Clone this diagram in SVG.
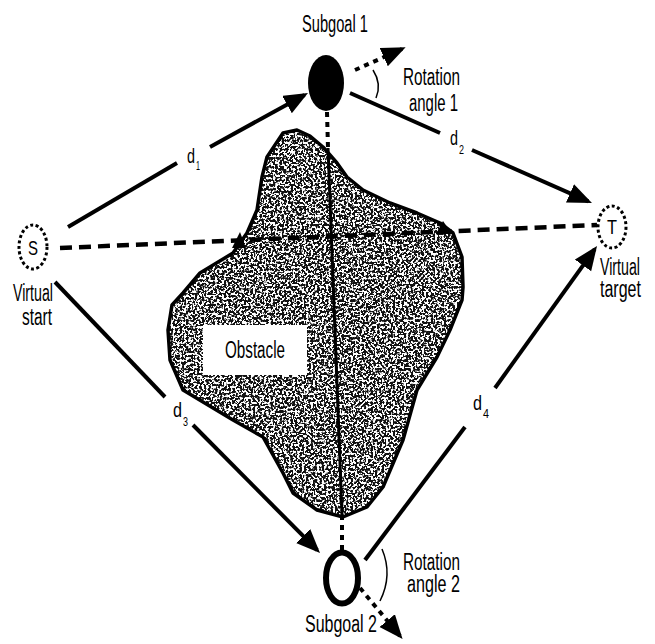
<svg xmlns="http://www.w3.org/2000/svg" xmlns:xlink="http://www.w3.org/1999/xlink" width="655" height="644" viewBox="0 0 655 644">
<style>
text{font-family:"Liberation Sans",Arial,sans-serif;font-size:23px;fill:#000}
.sub{font-size:12px}
.dd{font-size:20px}
.solid{stroke:#000;stroke-width:4;fill:none}
.dash{stroke:#000;stroke-width:4.5;fill:none;stroke-dasharray:12 7}
.dot{stroke:#000;stroke-width:4;fill:none;stroke-dasharray:5 5}
.thin{stroke:#000;stroke-width:1.5;fill:none}
</style>
<defs>
<marker id="ah" markerUnits="userSpaceOnUse" markerWidth="26" markerHeight="22" refX="20" refY="10" orient="auto">
<path d="M0,0 L24,10 L0,20 z" fill="#000"/>
</marker>
<filter id="speckle" x="0" y="0" width="1" height="1">
<feTurbulence type="fractalNoise" baseFrequency="0.45" numOctaves="2" seed="7" result="n"/>
<feColorMatrix in="n" type="matrix" values="0 0 0 0 1 0 0 0 0 1 0 0 0 0 1 0 0 0 -12 6.3" result="w"/>
<feComposite in="w" in2="SourceGraphic" operator="in"/>
</filter>
<polygon id="obs" points="297,130 310,136 323,147 337,163 347,177 363,190 390,203 417,213 440,223 453,233 462,257 463,287 462,300 450,330 437,357 417,390 403,440 383,487 367,507 343,517 317,510 293,493 283,473 263,437 233,420 183,390 170,360 168,330 172,305 183,293 200,273 233,253 247,233 257,210 262,177 267,157 283,133"/>
</defs>
<rect width="655" height="644" fill="#fff"/>
<g id="obstacle">
<use xlink:href="#obs" fill="#111"/>
<use xlink:href="#obs" fill="#fff" filter="url(#speckle)"/>
<use xlink:href="#obs" fill="none" stroke="#000" stroke-width="3.5" stroke-linejoin="round"/>
<rect x="203" y="325" width="104" height="50" fill="#fff"/>
<text x="225" y="358" textLength="60" lengthAdjust="spacingAndGlyphs">Obstacle</text>
</g>
<g id="connectors">
<line class="dash" x1="60" y1="248" x2="597" y2="225"/>
<polygon points="232,248 240,232 246,248" fill="#000"/>
<polygon points="436,234 443,221 452,234" fill="#000"/>
<line class="dot" x1="327" y1="112" x2="328" y2="148"/>
<line class="solid" style="stroke-width:3" x1="328" y1="148" x2="342" y2="515"/>
<line class="dot" x1="342" y1="515" x2="342" y2="550"/>
<line class="solid" x1="68" y1="227" x2="177" y2="163"/>
<line class="solid" x1="210" y1="147" x2="304.5" y2="94.9" marker-end="url(#ah)"/>
<line class="solid" x1="350" y1="93" x2="440" y2="133"/>
<line class="solid" x1="472" y1="150" x2="588.3" y2="201.4" marker-end="url(#ah)"/>
<line class="solid" x1="55" y1="282" x2="165" y2="397"/>
<line class="solid" x1="193" y1="425" x2="317.2" y2="550.2" marker-end="url(#ah)"/>
<line class="solid" x1="365" y1="560" x2="465" y2="427"/>
<line class="solid" x1="495" y1="388" x2="594.7" y2="249.2" marker-end="url(#ah)"/>
<line class="dot" x1="355" y1="70" x2="402" y2="49" marker-end="url(#ah)"/>
<line class="dot" x1="360" y1="588" x2="400" y2="636" marker-end="url(#ah)"/>
<path class="thin" d="M373,70 Q382,84 376,98"/>
<path class="thin" d="M382,549 Q393,575 380,601"/>
</g>
<g id="labels">
<text class="dd" x="187" y="163" textLength="8" lengthAdjust="spacingAndGlyphs">d</text>
<text class="sub" x="196" y="170" textLength="4" lengthAdjust="spacingAndGlyphs">1</text>
<text class="dd" x="450" y="145" textLength="8" lengthAdjust="spacingAndGlyphs">d</text>
<text class="sub" x="459" y="154" textLength="5" lengthAdjust="spacingAndGlyphs">2</text>
<text class="dd" x="173" y="417" textLength="9" lengthAdjust="spacingAndGlyphs">d</text>
<text class="sub" x="183" y="426" textLength="5" lengthAdjust="spacingAndGlyphs">3</text>
<text class="dd" x="473" y="410" textLength="9" lengthAdjust="spacingAndGlyphs">d</text>
<text class="sub" x="483" y="418" textLength="6" lengthAdjust="spacingAndGlyphs">4</text>
<text x="403" y="85" textLength="57" lengthAdjust="spacingAndGlyphs">Rotation</text>
<text x="409" y="111" textLength="49" lengthAdjust="spacingAndGlyphs">angle 1</text>
<text x="403" y="570" textLength="57" lengthAdjust="spacingAndGlyphs">Rotation</text>
<text x="407" y="592" textLength="53" lengthAdjust="spacingAndGlyphs">angle 2</text>
</g>
<g id="node-subgoal1">
<ellipse cx="326" cy="83" rx="18" ry="28" fill="#000"/>
<text x="302" y="32" textLength="66" lengthAdjust="spacingAndGlyphs">Subgoal 1</text>
</g>
<g id="node-subgoal2">
<ellipse cx="342" cy="578" rx="16" ry="25.5" fill="#fff" stroke="#000" stroke-width="6"/>
<text x="305" y="632" textLength="72" lengthAdjust="spacingAndGlyphs">Subgoal 2</text>
</g>
<g id="node-start">
<ellipse cx="33" cy="247" rx="14" ry="22" fill="#fff" stroke="#000" stroke-width="3" stroke-dasharray="3 2.5"/>
<text x="33" y="255" text-anchor="middle" style="font-size:21px" textLength="10" lengthAdjust="spacingAndGlyphs">S</text>
<text x="13" y="301" textLength="40" lengthAdjust="spacingAndGlyphs">Virtual</text>
<text x="22" y="325" textLength="30" lengthAdjust="spacingAndGlyphs">start</text>
</g>
<g id="node-target">
<ellipse cx="612" cy="227" rx="14" ry="21" fill="#fff" stroke="#000" stroke-width="3" stroke-dasharray="3 2.5"/>
<text x="612" y="234" text-anchor="middle" style="font-size:21px" textLength="10" lengthAdjust="spacingAndGlyphs">T</text>
<text x="600" y="275" textLength="40" lengthAdjust="spacingAndGlyphs">Virtual</text>
<text x="600" y="297" textLength="41" lengthAdjust="spacingAndGlyphs">target</text>
</g>
</svg>
